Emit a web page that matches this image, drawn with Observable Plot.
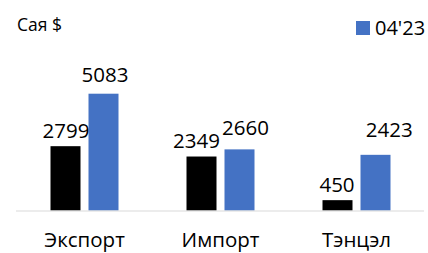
<!DOCTYPE html>
<html>
<head>
<meta charset="utf-8">
<script src="https://cdn.jsdelivr.net/npm/d3@7"></script>
<script src="https://cdn.jsdelivr.net/npm/@observablehq/plot@0.6"></script>
<style>
  html, body { margin: 0; padding: 0; background: #fff; }
  #wrap { position: relative; width: 428px; height: 253px; overflow: hidden; font-family: "Open Sans", sans-serif; }
  #title { position: absolute; left: 17px; top: 15.5px; font-size: 17.5px; line-height: 17.5px; color: #000; white-space: nowrap; }
  #legend { position: absolute; left: 356px; top: 18px; font-size: 20px; line-height: 20px; color: #000; white-space: nowrap; }
  #legend .sw { position: absolute; left: 0; top: 3px; width: 14px; height: 14px; background: #4472C4; }
  #legend .lb { position: absolute; left: 19px; top: 0; }
  #chart { position: absolute; left: 0; top: 0; }
</style>
</head>
<body>
<div id="wrap">
  <div id="chart"></div>
  <div id="title">Сая $</div>
  <div id="legend"><span class="sw"></span><span class="lb">04'23</span></div>
</div>
<script>
const categories = ["Экспорт", "Импорт", "Тэнцэл"];
const seriesNames = ["04'22", "04'23"];
const valuesPrev = [2799, 2349, 450];
const valuesCurr = [5083, 2660, 2423];
const seriesColors = ["#000000", "#4472C4"];

const data = categories.flatMap((c, i) => [
  {cat: c, series: seriesNames[0], value: valuesPrev[i]},
  {cat: c, series: seriesNames[1], value: valuesCurr[i]}
]);

// label nudges (dx, dy in px) to mimic the reference's manual placement
const nudge = {
  "Экспорт|0": [0, -15.4], "Экспорт|1": [1, -19],
  "Импорт|0": [-5.5, -15.7], "Импорт|1": [5.4, -21.8],
  "Тэнцэл|0": [-1, -15.1], "Тэнцэл|1": [13.3, -24.4]
};

const labelMarks = data.map(d => {
  const k = d.cat + "|" + seriesNames.indexOf(d.series);
  const [dx, dy] = nudge[k];
  return Plot.text([d], {
    fx: "cat", x: "series", y: "value", text: d => String(d.value),
    lineAnchor: "middle", dx, dy, fontSize: 20.5, fill: "#000"
  });
});

const chart = Plot.plot({
  width: 428,
  height: 253,
  marginLeft: 15.5,
  marginRight: 3.6,
  marginTop: 3.7,
  marginBottom: 42.5,
  style: {fontFamily: "Open Sans, sans-serif", background: "transparent", overflow: "visible"},
  fx: {domain: categories, padding: 0, label: null},
  x: {domain: seriesNames, paddingInner: 0.223, paddingOuter: 0.859, axis: null},
  y: {domain: [0, 9000], axis: null},
  color: {domain: seriesNames, range: seriesColors},
  marks: [
    Plot.barY(data, {fx: "cat", x: "series", y: "value", fill: "series"}),
    Plot.ruleY([0], {stroke: "#d9d9d9", strokeWidth: 1.2}),
    ...labelMarks,
    Plot.axisFx({anchor: "bottom", tickSize: 0, tickPadding: 21, fontSize: 20.5, label: null, fill: "#000"})
  ]
});
document.getElementById("chart").appendChild(chart);
</script>
</body>
</html>
